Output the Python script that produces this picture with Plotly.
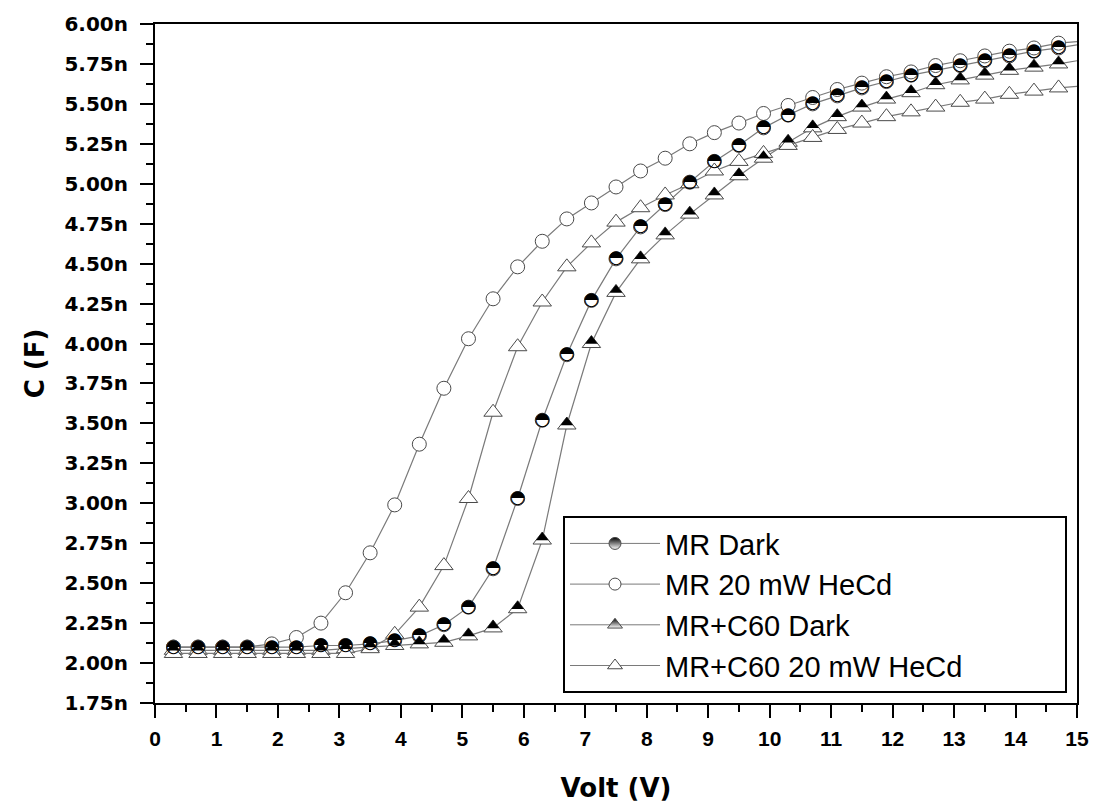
import plotly.graph_objects as go

# ---------------- data ----------------
volt = [0.3, 0.7, 1.1, 1.5, 1.9, 2.3, 2.7, 3.1, 3.5, 3.9, 4.3, 4.7, 5.1, 5.5, 5.9,
        6.3, 6.7, 7.1, 7.5, 7.9, 8.3, 8.7, 9.1, 9.5, 9.9, 10.3, 10.7, 11.1, 11.5,
        11.9, 12.3, 12.7, 13.1, 13.5, 13.9, 14.3, 14.7]

mr_dark = [2.10, 2.10, 2.10, 2.10, 2.10, 2.10, 2.11, 2.11, 2.12, 2.14, 2.17, 2.24,
           2.35, 2.59, 3.03, 3.52, 3.93, 4.27, 4.53, 4.73, 4.87, 5.01, 5.14, 5.24,
           5.35, 5.43, 5.50, 5.55, 5.60, 5.64, 5.68, 5.71, 5.74, 5.77, 5.80, 5.83, 5.85]

mr_hecd = [2.10, 2.10, 2.10, 2.10, 2.12, 2.16, 2.25, 2.44, 2.69, 2.99, 3.37, 3.72,
           4.03, 4.28, 4.48, 4.64, 4.78, 4.88, 4.98, 5.08, 5.16, 5.25, 5.32, 5.38,
           5.44, 5.49, 5.54, 5.59, 5.63, 5.67, 5.70, 5.74, 5.77, 5.80, 5.83, 5.85, 5.88]

c60_dark = [2.08, 2.08, 2.08, 2.08, 2.08, 2.08, 2.08, 2.09, 2.10, 2.11, 2.12, 2.13,
            2.17, 2.22, 2.34, 2.77, 3.49, 4.00, 4.32, 4.53, 4.68, 4.81, 4.93, 5.05,
            5.16, 5.26, 5.35, 5.42, 5.48, 5.53, 5.57, 5.62, 5.65, 5.68, 5.71, 5.73, 5.75]

c60_hecd = [2.06, 2.06, 2.06, 2.06, 2.06, 2.06, 2.06, 2.06, 2.09, 2.18, 2.35, 2.61,
            3.03, 3.57, 3.98, 4.26, 4.48, 4.63, 4.76, 4.85, 4.93, 5.00, 5.08, 5.14,
            5.19, 5.24, 5.29, 5.34, 5.38, 5.42, 5.45, 5.48, 5.51, 5.53, 5.56, 5.58, 5.60]

# the drawn lines continue to the right frame at 15 V
line_end_volt = 15.0
line_end_values = [5.87, 5.89, 5.77, 5.61]

series_names = ["MR Dark", "MR 20 mW HeCd", "MR+C60 Dark", "MR+C60 20 mW HeCd"]

y_ticks = [1.75, 2.00, 2.25, 2.50, 2.75, 3.00, 3.25, 3.50, 3.75, 4.00, 4.25, 4.50,
           4.75, 5.00, 5.25, 5.50, 5.75, 6.00]
y_tick_labels = ["1.75n", "2.00n", "2.25n", "2.50n", "2.75n", "3.00n", "3.25n",
                 "3.50n", "3.75n", "4.00n", "4.25n", "4.50n", "4.75n", "5.00n",
                 "5.25n", "5.50n", "5.75n", "6.00n"]
x_ticks = [0, 1, 2, 3, 4, 5, 6, 7, 8, 9, 10, 11, 12, 13, 14, 15]

# ---------------- style ----------------
W, H = 1101, 810
M_L, M_R, M_T, M_B = 155, 24, 20, 107
PLOT_W = W - M_L - M_R
PLOT_H = H - M_T - M_B
Y_MIN, Y_MAX = 1.75, 6.00
LINE_C = "#7a7a7a"
EDGE_C = "#4a4a4a"
FONT = "Liberation Sans"
WIDE = "DejaVu Sans"

def shift_range(px):
    d = px * (Y_MAX - Y_MIN) / PLOT_H
    return [Y_MIN - d, Y_MAX - d]

fig = go.Figure()

series_vals = [mr_dark, mr_hecd, c60_dark, c60_hecd]
kinds = ["halfcircle", "circle", "halftri", "tri"]

for name, vals, kind, yend in zip(series_names, series_vals, kinds, line_end_values):
    fig.add_trace(go.Scatter(x=volt + [line_end_volt], y=vals + [yend], mode="lines",
                             line=dict(color=LINE_C, width=1.2),
                             showlegend=False, hoverinfo="skip"))
    if kind in ("circle", "halfcircle"):
        fig.add_trace(go.Scatter(x=volt, y=vals, mode="markers",
                                 marker=dict(symbol="circle", size=14, color="white",
                                             line=dict(color=EDGE_C, width=1)),
                                 showlegend=False, hoverinfo="skip"))
        if kind == "halfcircle":
            fig.add_trace(go.Scatter(x=volt, y=vals, mode="text", yaxis="y3",
                                     text=["\u25D3"] * len(volt),
                                     textposition="middle center",
                                     textfont=dict(family=WIDE, size=18, color="black"),
                                     showlegend=False, hoverinfo="skip"))
    else:
        fig.add_trace(go.Scatter(x=volt, y=vals, mode="markers",
                                 marker=dict(symbol="triangle-up", size=16, color="white",
                                             line=dict(color=EDGE_C, width=1)),
                                 showlegend=False, hoverinfo="skip"))
        if kind == "halftri":
            fig.add_trace(go.Scatter(x=volt, y=vals, mode="markers", yaxis="y2",
                                     marker=dict(symbol="triangle-up", size=11, color="black",
                                                 line=dict(width=0)),
                                     showlegend=False, hoverinfo="skip"))

# legend entries
leg_markers = [
    dict(symbol="circle", size=12, color="black", gradient=dict(type="vertical", color="white"),
         line=dict(color=EDGE_C, width=1)),
    dict(symbol="circle", size=12, color="white", line=dict(color=EDGE_C, width=1)),
    dict(symbol="triangle-up", size=13, color="black", gradient=dict(type="vertical", color="white"),
         line=dict(color=EDGE_C, width=1)),
    dict(symbol="triangle-up", size=13, color="white", line=dict(color=EDGE_C, width=1)),
]
pad = "\u00a0" * 12
for name, mk in zip(series_names, leg_markers):
    fig.add_trace(go.Scatter(x=[None], y=[None], mode="lines+markers",
                             name=name + (pad if name == series_names[-1] else ""),
                             line=dict(color=LINE_C, width=1), marker=mk))

x_tick_font = dict(family=FONT, size=21, color="black", weight="bold")
y_tick_font = dict(family=WIDE, size=20, color="black", weight="bold")
title_font = dict(family=WIDE, size=26, color="black", weight="bold")

fig.update_layout(
    width=W, height=H,
    margin=dict(l=M_L, r=M_R, t=M_T, b=M_B),
    paper_bgcolor="white", plot_bgcolor="white",
    showlegend=True,
    legend=dict(x=(563 - M_L) / PLOT_W, y=(703 - 693) / PLOT_H,
                xanchor="left", yanchor="bottom",
                bgcolor="white", bordercolor="black", borderwidth=2,
                font=dict(family=FONT, size=29, color="black"),
                itemwidth=90, tracegroupgap=0),
    xaxis=dict(range=[0, 15], tickvals=x_ticks, ticks="outside", ticklen=13, tickwidth=2,
               tickcolor="black", showline=True, linecolor="black", linewidth=2,
               mirror=True, showgrid=False, zeroline=False, tickfont=x_tick_font,
               ticklabelstandoff=3,
               minor=dict(dtick=0.5, ticks="outside", ticklen=7, tickwidth=2, tickcolor="black",
                          showgrid=False),
               title=dict(text="Volt (V)", font=title_font, standoff=30)),
    yaxis=dict(range=[Y_MIN, Y_MAX], tickvals=y_ticks, ticktext=y_tick_labels,
               ticks="outside", ticklen=13, tickwidth=2, tickcolor="black",
               showline=True, linecolor="black", linewidth=2, mirror=True,
               showgrid=False, zeroline=False, tickfont=y_tick_font,
               ticklabelstandoff=8,
               minor=dict(dtick=0.125, ticks="outside", ticklen=7, tickwidth=2,
                          tickcolor="black", showgrid=False),
               title=dict(text="C (F)", font=title_font, standoff=12)),
    yaxis2=dict(range=shift_range(2.5), overlaying="y", visible=False),
    yaxis3=dict(range=shift_range(0.0), overlaying="y", visible=False),
)

fig.write_html("out.html")
